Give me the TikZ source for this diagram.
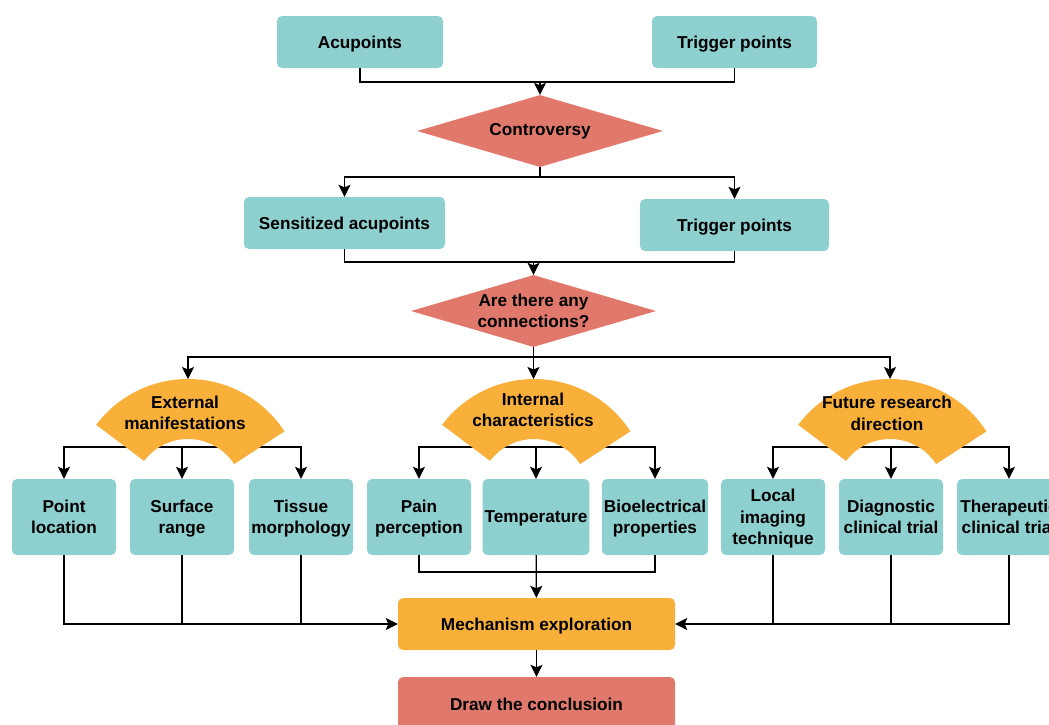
\documentclass[tikz,border=0pt]{standalone}
\usepackage{fontspec}
\setmainfont{Liberation Sans}
\usetikzlibrary{shapes.geometric,arrows.meta}
\definecolor{boxteal}{RGB}{142,207,207}
\definecolor{decred}{RGB}{224,120,108}
\definecolor{fanorange}{RGB}{249,176,59}
\tikzset{
    tealbox/.style={rectangle,rounded corners=5pt,fill=boxteal,align=center,inner sep=2pt,text depth=0pt},
    leafbox/.style={tealbox,minimum width=104pt,minimum height=76pt},
    decision/.style={diamond,aspect=3.42,fill=decred,inner sep=0pt,align=center},
    link/.style={line width=1.3pt},
    flow/.style={link,-{Stealth[length=12pt,width=12pt,inset=2.5pt]}}
}
\begin{document}
\begin{tikzpicture}[x=1pt,y=-1pt,font=\bfseries\fontsize{17.2}{21.5}\selectfont]
    \useasboundingbox (0,0) rectangle (1049,724);
    \clip (0,0) rectangle (1049,724);
    % top row
    \node[tealbox,minimum width=166pt,minimum height=52pt] (acu) at (360,42) {Acupoints};
    \node[tealbox,minimum width=165pt,minimum height=52pt] (trig1) at (734.5,42) {Trigger points};
    \node[decision,minimum width=246pt,minimum height=72pt] (contro) at (540,131) {Controversy};
    \node[tealbox,minimum width=201pt,minimum height=52pt] (sens) at (344.5,223) {Sensitized acupoints};
    \node[tealbox,minimum width=189pt,minimum height=52pt] (trig2) at (734.5,225) {Trigger points};
    \node[decision,minimum width=245pt,minimum height=72pt] (conn) at (533.5,311) {Are there any\\connections?};
    % leaf boxes
    \node[leafbox] (pl) at (64,517) {Point\\location};
    \node[leafbox] (sr) at (182,517) {Surface\\range};
    \node[leafbox] (tm) at (301,517) {Tissue\\morphology};
    \node[leafbox] (pp) at (419,517) {Pain\\perception};
    \node[leafbox] (tp) at (536,517) {Temperature};
    \node[leafbox] (bp) at (655,517) {Bioelectrical\\properties};
    \node[leafbox] (li) at (773,517) {Local\\imaging\\technique};
    \node[leafbox] (dc) at (891,517) {Diagnostic\\clinical trial};
    \node[leafbox] (tr) at (1009,517) {Therapeutic\\clinical trial};
    \node[tealbox,fill=fanorange,minimum width=277pt,minimum height=52pt] (mech) at (536.5,624) {Mechanism exploration};
    \node[tealbox,fill=decred,minimum width=277pt,minimum height=55pt] (concl) at (536.5,704.5) {Draw the conclusioin};
    % junctions
    \coordinate (j1) at (540,82);
    \coordinate (j2) at (540,177);
    \coordinate (j3) at (533.5,262);
    \coordinate (j4) at (533.5,357);
    \coordinate (ext b) at (182,447);
    \coordinate (int b) at (536,447);
    \coordinate (fut b) at (891,447);
    \coordinate (int j) at (536,572);
    \coordinate (ext top) at (188,379);
    \coordinate (int top) at (533.5,379);
    \coordinate (fut top) at (890,379);
    % connectors
    \draw[link] (acu) |- (j1) -| (trig1);
    \draw[flow] (j1) -- (contro);
    \draw[link] (contro) -- (j2);
    \draw[flow] (j2) -| (sens);
    \draw[flow] (j2) -| (trig2);
    \draw[link] (sens) |- (j3) -| (trig2);
    \draw[flow] (j3) -- (conn);
    \draw[link] (conn) -- (j4);
    \draw[flow] (j4) -| (ext top);
    \draw[flow] (j4) -- (int top);
    \draw[flow] (j4) -| (fut top);
    \draw[flow] (ext b) -| (pl);
    \draw[flow] (ext b) -- (sr);
    \draw[flow] (ext b) -| (tm);
    \draw[flow] (int b) -| (pp);
    \draw[flow] (int b) -- (tp);
    \draw[flow] (int b) -| (bp);
    \draw[flow] (fut b) -| (li);
    \draw[flow] (fut b) -- (dc);
    \draw[flow] (fut b) -| (tr);
    \draw[flow] (pl) |- (mech);
    \draw[link] (sr) -- (sr |- mech.west);
    \draw[link] (tm) -- (tm |- mech.west);
    \draw[link] (pp) |- (int j) -| (bp);
    \draw[flow] (tp) -- (mech);
    \draw[flow] (tr) |- (mech);
    \draw[link] (li) -- (li |- mech.east);
    \draw[link] (dc) -- (dc |- mech.east);
    \draw[flow] (mech) -- (concl);
    % fans
    \foreach \cx/\nm in {188/ext,534/int,890/fut}{
        \fill[fanorange] (\cx,494) ++(-33:115) arc[start angle=-33,end angle=-143,radius=115]
            -- ++(37:60) arc[start angle=-143,end angle=-33,radius=55] -- cycle;
    }
    \node[align=center] (ext) at (185,413) {External\\manifestations};
    \node[align=center] (int) at (533,410) {Internal\\characteristics};
    \node[align=center] (fut) at (887,413.5) {Future research\\direction};
\end{tikzpicture}
\end{document}
